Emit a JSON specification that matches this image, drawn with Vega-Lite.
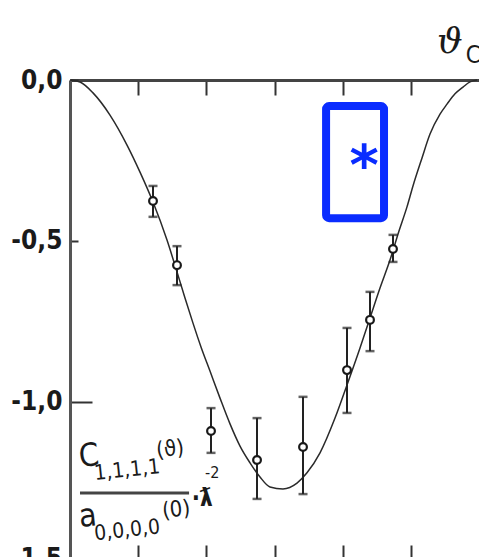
{
  "$schema": "https://vega.github.io/schema/vega-lite/v6.json",
  "width": 409,
  "height": 477,
  "autosize": "none",
  "padding": {"left": 70, "top": 80, "right": 0, "bottom": 0},
  "background": "white",
  "config": {
    "view": {"stroke": null},
    "axis": {"grid": false, "title": null}
  },
  "datasets": {
    "curve": [
      {"theta": 0, "value": 0},
      {"theta": 4.4, "value": -0.006},
      {"theta": 10.12, "value": -0.04},
      {"theta": 17.6, "value": -0.109},
      {"theta": 25.09, "value": -0.202},
      {"theta": 30.81, "value": -0.286},
      {"theta": 36.53, "value": -0.379},
      {"theta": 42.69, "value": -0.497},
      {"theta": 47.09, "value": -0.596},
      {"theta": 50.61, "value": -0.677},
      {"theta": 54.13, "value": -0.755},
      {"theta": 57.65, "value": -0.829},
      {"theta": 61.61, "value": -0.904},
      {"theta": 66.02, "value": -0.988},
      {"theta": 70.42, "value": -1.068},
      {"theta": 74.82, "value": -1.137},
      {"theta": 79.22, "value": -1.189},
      {"theta": 83.62, "value": -1.233},
      {"theta": 88.02, "value": -1.264},
      {"theta": 93.74, "value": -1.27},
      {"theta": 99.9, "value": -1.252},
      {"theta": 104.3, "value": -1.22},
      {"theta": 110.03, "value": -1.158},
      {"theta": 116.63, "value": -1.05},
      {"theta": 121.91, "value": -0.947},
      {"theta": 127.63, "value": -0.832},
      {"theta": 132.03, "value": -0.739},
      {"theta": 136.43, "value": -0.646},
      {"theta": 140.83, "value": -0.559},
      {"theta": 144.79, "value": -0.469},
      {"theta": 148.31, "value": -0.394},
      {"theta": 150.95, "value": -0.329},
      {"theta": 154.92, "value": -0.242},
      {"theta": 158.44, "value": -0.168},
      {"theta": 162.84, "value": -0.106},
      {"theta": 165.92, "value": -0.075},
      {"theta": 169.44, "value": -0.043},
      {"theta": 172.96, "value": -0.022},
      {"theta": 176.04, "value": -0.006},
      {"theta": 179.12, "value": 0}
    ],
    "measured": [
      {"theta": 36.53, "value": -0.376, "high": -0.329, "low": -0.425},
      {"theta": 47.09, "value": -0.575, "high": -0.516, "low": -0.637},
      {"theta": 62.06, "value": -1.09, "high": -1.019, "low": -1.158},
      {"theta": 82.31, "value": -1.18, "high": -1.05, "low": -1.301},
      {"theta": 102.55, "value": -1.14, "high": -0.984, "low": -1.286},
      {"theta": 121.91, "value": -0.901, "high": -0.77, "low": -1.034},
      {"theta": 132.03, "value": -0.745, "high": -0.658, "low": -0.842},
      {"theta": 142.15, "value": -0.525, "high": -0.481, "low": -0.565}
    ]
  },
  "resolve": {"axis": {"x": "independent", "y": "independent"}},
  "layer": [
    {
      "data": {"name": "curve"},
      "mark": {"type": "line", "interpolate": "monotone", "color": "#2a2a2a", "strokeWidth": 1.5},
      "encoding": {
        "x": {
          "field": "theta", "type": "quantitative",
          "scale": {"domain": [0, 180], "nice": false, "zero": false},
          "axis": {
            "orient": "top", "values": [30, 60, 90, 120, 150], "labels": false,
            "tickSize": -15, "tickWidth": 2, "tickColor": "#333",
            "domainColor": "#444", "domainWidth": 3
          }
        },
        "y": {
          "field": "value", "type": "quantitative",
          "scale": {"domain": [-1.4814, 0], "nice": false, "zero": false},
          "axis": {
            "orient": "left", "values": [0, -0.5, -1],
            "labelExpr": "replace(replace(format(datum.value, '.1f'), '.', ','), '−', '-')",
            "labelFont": "DejaVu Sans Condensed", "labelFontSize": 26, "labelFontWeight": "bold",
            "labelColor": "#1a1a1a",
            "labelPadding": {"condition": {"test": "datum.value == -1", "value": 30}, "value": 16},
            "tickSize": {"condition": {"test": "datum.value == -1", "value": -22}, "value": -8},
            "tickWidth": 2, "tickColor": "#333",
            "domainColor": "#555", "domainWidth": 3
          }
        }
      }
    },
    {
      "data": {"name": "measured"},
      "mark": {"type": "rule", "color": "#222", "strokeWidth": 2},
      "encoding": {
        "x": {
          "field": "theta", "type": "quantitative",
          "scale": {"domain": [0, 180], "nice": false, "zero": false},
          "axis": {
            "orient": "bottom", "values": [30, 60, 90, 120, 150], "labels": false,
            "domain": false, "tickSize": -12, "tickWidth": 2, "tickColor": "#333"
          }
        },
        "y": {
          "field": "high", "type": "quantitative",
          "scale": {"domain": [-1.4814, 0], "nice": false, "zero": false},
          "axis": {"orient": "right", "labels": false, "ticks": false, "domainColor": "#dcdcdc", "domainWidth": 1}
        },
        "y2": {"field": "low"}
      }
    },
    {
      "data": {"name": "measured"},
      "mark": {"type": "tick", "orient": "horizontal", "color": "#222", "size": 9, "thickness": 2.5},
      "encoding": {
        "x": {"field": "theta", "type": "quantitative", "scale": {"domain": [0, 180], "nice": false, "zero": false}, "axis": null},
        "y": {"field": "high", "type": "quantitative", "scale": {"domain": [-1.4814, 0], "nice": false, "zero": false}, "axis": null}
      }
    },
    {
      "data": {"name": "measured"},
      "mark": {"type": "tick", "orient": "horizontal", "color": "#222", "size": 9, "thickness": 2.5},
      "encoding": {
        "x": {"field": "theta", "type": "quantitative", "scale": {"domain": [0, 180], "nice": false, "zero": false}, "axis": null},
        "y": {"field": "low", "type": "quantitative", "scale": {"domain": [-1.4814, 0], "nice": false, "zero": false}, "axis": null}
      }
    },
    {
      "data": {"name": "measured"},
      "mark": {"type": "point", "shape": "circle", "filled": true, "fill": "white", "stroke": "#1a1a1a", "strokeWidth": 2.2, "size": 60, "opacity": 1},
      "encoding": {
        "x": {"field": "theta", "type": "quantitative", "scale": {"domain": [0, 180], "nice": false, "zero": false}, "axis": null},
        "y": {"field": "value", "type": "quantitative", "scale": {"domain": [-1.4814, 0], "nice": false, "zero": false}, "axis": null}
      }
    },
    {
      "data": {"values": [{"theta": -3.5, "value": -1.5, "label": "-1,5"}]},
      "mark": {"type": "text", "align": "right", "baseline": "middle", "font": "DejaVu Sans Condensed", "fontWeight": "bold", "fontSize": 26, "color": "#1a1a1a", "dy": -4},
      "encoding": {
        "x": {"field": "theta", "type": "quantitative", "scale": {"domain": [0, 180], "nice": false, "zero": false}, "axis": null},
        "y": {"field": "value", "type": "quantitative", "scale": {"domain": [-1.4814, 0], "nice": false, "zero": false}, "axis": null},
        "text": {"field": "label"}
      }
    },
    {
      "data": {"values": [{"theta": 4.4, "end": 52.4, "value": -1.283}]},
      "mark": {"type": "rule", "color": "#444", "strokeWidth": 3},
      "encoding": {
        "x": {"field": "theta", "type": "quantitative", "scale": {"domain": [0, 180], "nice": false, "zero": false}, "axis": null},
        "x2": {"field": "end"},
        "y": {"field": "value", "type": "quantitative", "scale": {"domain": [-1.4814, 0], "nice": false, "zero": false}, "axis": null}
      }
    },
    {
      "data": {"values": [
        {"theta": 4.4, "value": -1.202, "label": "C"},
        {"theta": 4.4, "value": -1.388, "label": "a"}
      ]},
      "mark": {"type": "text", "align": "left", "baseline": "alphabetic", "font": "DejaVu Sans Condensed", "fontSize": 32, "color": "#1a1a1a", "angle": 354},
      "encoding": {
        "x": {"field": "theta", "type": "quantitative", "scale": {"domain": [0, 180], "nice": false, "zero": false}, "axis": null},
        "y": {"field": "value", "type": "quantitative", "scale": {"domain": [-1.4814, 0], "nice": false, "zero": false}, "axis": null},
        "text": {"field": "label"}
      }
    },
    {
      "data": {"values": [
        {"theta": 11.0, "value": -1.242, "label": "1,1,1,1"},
        {"theta": 11.0, "value": -1.429, "label": "0,0,0,0"}
      ]},
      "mark": {"type": "text", "align": "left", "baseline": "alphabetic", "font": "DejaVu Sans Condensed", "fontSize": 21, "color": "#1a1a1a", "angle": 354},
      "encoding": {
        "x": {"field": "theta", "type": "quantitative", "scale": {"domain": [0, 180], "nice": false, "zero": false}, "axis": null},
        "y": {"field": "value", "type": "quantitative", "scale": {"domain": [-1.4814, 0], "nice": false, "zero": false}, "axis": null},
        "text": {"field": "label"}
      }
    },
    {
      "data": {"values": [
        {"theta": 38.3, "value": -1.172, "label": "(ϑ)"},
        {"theta": 40.9, "value": -1.36, "label": "(0)"}
      ]},
      "mark": {"type": "text", "align": "left", "baseline": "alphabetic", "font": "DejaVu Sans Condensed", "fontSize": 22, "color": "#1a1a1a", "angle": 354},
      "encoding": {
        "x": {"field": "theta", "type": "quantitative", "scale": {"domain": [0, 180], "nice": false, "zero": false}, "axis": null},
        "y": {"field": "value", "type": "quantitative", "scale": {"domain": [-1.4814, 0], "nice": false, "zero": false}, "axis": null},
        "text": {"field": "label"}
      }
    },
    {
      "data": {"values": [{"theta": 53.6, "value": -1.322, "label": "·ƛ"}]},
      "mark": {"type": "text", "align": "left", "baseline": "alphabetic", "font": "DejaVu Sans Condensed", "fontWeight": "bold", "fontSize": 24, "color": "#1a1a1a"},
      "encoding": {
        "x": {"field": "theta", "type": "quantitative", "scale": {"domain": [0, 180], "nice": false, "zero": false}, "axis": null},
        "y": {"field": "value", "type": "quantitative", "scale": {"domain": [-1.4814, 0], "nice": false, "zero": false}, "axis": null},
        "text": {"field": "label"}
      }
    },
    {
      "data": {"values": [{"theta": 59.4, "value": -1.236, "label": "-2"}]},
      "mark": {"type": "text", "align": "left", "baseline": "alphabetic", "font": "DejaVu Sans Condensed", "fontSize": 16, "color": "#1a1a1a"},
      "encoding": {
        "x": {"field": "theta", "type": "quantitative", "scale": {"domain": [0, 180], "nice": false, "zero": false}, "axis": null},
        "y": {"field": "value", "type": "quantitative", "scale": {"domain": [-1.4814, 0], "nice": false, "zero": false}, "axis": null},
        "text": {"field": "label"}
      }
    },
    {
      "data": {"values": [{"theta": 161.5, "value": 0.084, "label": "ϑ"}]},
      "mark": {"type": "text", "align": "left", "baseline": "alphabetic", "font": "DejaVu Serif", "fontStyle": "italic", "fontSize": 36, "color": "#1a1a1a"},
      "encoding": {
        "x": {"field": "theta", "type": "quantitative", "scale": {"domain": [0, 180], "nice": false, "zero": false}, "axis": null},
        "y": {"field": "value", "type": "quantitative", "scale": {"domain": [-1.4814, 0], "nice": false, "zero": false}, "axis": null},
        "text": {"field": "label"}
      }
    },
    {
      "data": {"values": [{"theta": 174.2, "value": 0.053, "label": "CM"}]},
      "mark": {"type": "text", "align": "left", "baseline": "alphabetic", "font": "DejaVu Sans Condensed", "fontSize": 24, "color": "#1a1a1a"},
      "encoding": {
        "x": {"field": "theta", "type": "quantitative", "scale": {"domain": [0, 180], "nice": false, "zero": false}, "axis": null},
        "y": {"field": "value", "type": "quantitative", "scale": {"domain": [-1.4814, 0], "nice": false, "zero": false}, "axis": null},
        "text": {"field": "label"}
      }
    },
    {
      "data": {"values": [{"theta": 112.7, "end": 138.2, "value": -0.081, "bottom": -0.429}]},
      "mark": {"type": "rect", "fill": null, "stroke": "#0a2cff", "strokeWidth": 8, "cornerRadius": 3},
      "encoding": {
        "x": {"field": "theta", "type": "quantitative", "scale": {"domain": [0, 180], "nice": false, "zero": false}, "axis": null},
        "x2": {"field": "end"},
        "y": {"field": "value", "type": "quantitative", "scale": {"domain": [-1.4814, 0], "nice": false, "zero": false}, "axis": null},
        "y2": {"field": "bottom"}
      }
    },
    {
      "data": {"values": [{"theta": 129.4, "value": -0.23, "label": "*"}]},
      "mark": {"type": "text", "align": "center", "baseline": "middle", "font": "DejaVu Sans", "fontWeight": "bold", "fontSize": 56, "color": "#0a2cff", "dy": 13},
      "encoding": {
        "x": {"field": "theta", "type": "quantitative", "scale": {"domain": [0, 180], "nice": false, "zero": false}, "axis": null},
        "y": {"field": "value", "type": "quantitative", "scale": {"domain": [-1.4814, 0], "nice": false, "zero": false}, "axis": null},
        "text": {"field": "label"}
      }
    }
  ]
}
